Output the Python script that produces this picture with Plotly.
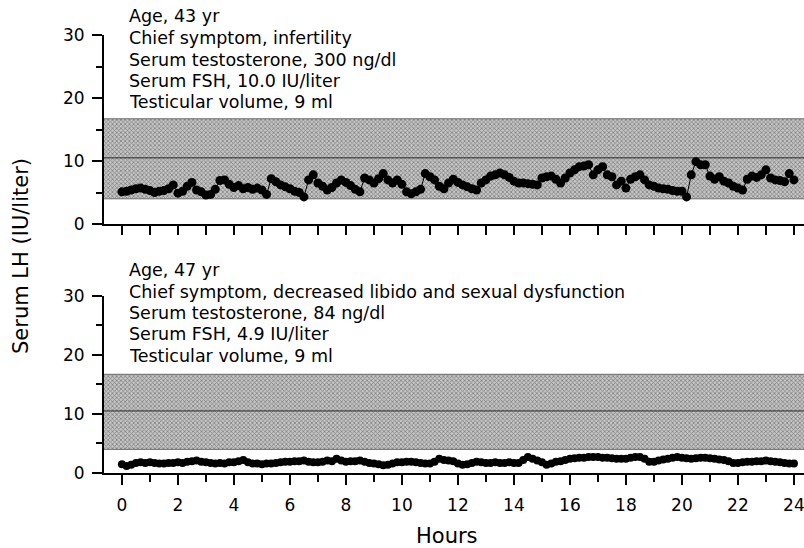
import plotly.graph_objects as go

# ---------------- data ----------------
# sampling every 10 minutes over 24 hours
sample_times_h = [i / 6 for i in range(145)]

top_lh = [
    5.1, 5.2, 5.4, 5.6, 5.7, 5.5,
    5.3, 5.0, 5.2, 5.3, 5.6, 6.2,
    4.9, 5.2, 6.0, 6.6, 5.4, 5.1,
    4.6, 4.7, 5.5, 6.9, 7.0, 6.3,
    5.8, 6.1, 5.6, 5.8, 5.5, 5.7,
    5.4, 4.7, 7.2, 6.7, 6.2, 5.9,
    5.6, 5.2, 5.0, 4.3, 7.0, 7.8,
    6.5, 6.0, 5.4, 5.8, 6.5, 7.0,
    6.6, 6.1, 5.5, 5.1, 7.3, 7.0,
    6.5, 7.2, 8.0, 7.0, 6.5, 7.0,
    6.3, 5.1, 4.8, 5.1, 5.5, 8.0,
    7.5, 7.0, 6.0, 5.6, 6.5, 7.1,
    6.6, 6.2, 5.9, 5.6, 5.4, 6.5,
    7.0, 7.6, 7.8, 8.1, 7.8, 7.4,
    6.8, 6.5, 6.5, 6.4, 6.3, 6.2,
    7.3, 7.5, 7.6, 7.1, 6.5, 7.3,
    8.1, 8.6, 9.1, 9.2, 9.4, 7.8,
    8.6, 9.1, 7.8, 7.5, 6.2, 6.8,
    5.7, 7.1, 7.5, 7.8, 7.0, 6.2,
    6.0, 5.7, 5.6, 5.5, 5.3, 5.2,
    5.2, 4.3, 7.8, 9.9, 9.4, 9.4,
    7.6, 7.1, 7.5, 6.8, 6.5, 6.0,
    5.7, 5.4, 7.1, 7.6, 7.4, 7.8,
    8.6, 7.3, 7.0, 6.9, 6.7, 8.0,
    7.0,
]

bottom_lh = [
    1.5, 1.2, 1.4, 1.7, 1.8, 1.7,
    1.8, 1.7, 1.6, 1.6, 1.7, 1.7,
    1.8, 1.7, 1.9, 2.0, 2.1, 1.9,
    1.8, 1.7, 1.6, 1.7, 1.6, 1.8,
    1.8, 2.0, 2.2, 1.8, 1.6, 1.6,
    1.5, 1.6, 1.6, 1.7, 1.8, 1.9,
    1.9, 2.0, 2.0, 2.1, 1.9, 1.8,
    1.8, 1.9, 2.1, 2.0, 2.4, 2.1,
    1.9, 2.0, 2.0, 2.1, 1.9, 1.7,
    1.6, 1.5, 1.3, 1.4, 1.6, 1.8,
    1.8, 1.9, 1.9, 1.8, 1.7, 1.6,
    1.6, 1.9, 2.4, 2.2, 2.1, 2.0,
    1.6, 1.4, 1.5, 1.7, 1.9, 1.8,
    1.7, 1.7, 1.8, 1.7, 1.7, 1.8,
    1.7, 1.7, 2.2, 2.7, 2.4, 2.1,
    1.8, 1.4, 1.6, 1.9, 2.0, 2.2,
    2.4, 2.5, 2.6, 2.6, 2.7, 2.7,
    2.7, 2.6, 2.6, 2.5, 2.4, 2.4,
    2.4, 2.6, 2.7, 2.7, 2.4, 1.9,
    1.9, 2.1, 2.3, 2.4, 2.6, 2.7,
    2.6, 2.5, 2.4, 2.5, 2.6, 2.6,
    2.5, 2.4, 2.3, 2.2, 2.0, 1.7,
    1.7, 1.8, 1.9, 1.9, 2.0, 2.0,
    2.1, 2.0, 1.9, 1.8, 1.7, 1.6,
    1.6,
]

normal_range = {"low": 4.0, "mid": 10.5, "high": 16.7}

top_text = [
    "Age, 43 yr",
    "Chief symptom, infertility",
    "Serum testosterone, 300 ng/dl",
    "Serum FSH, 10.0 IU/liter",
    "Testicular volume, 9 ml",
]
bottom_text = [
    "Age, 47 yr",
    "Chief symptom, decreased libido and sexual dysfunction",
    "Serum testosterone, 84 ng/dl",
    "Serum FSH, 4.9 IU/liter",
    "Testicular volume, 9 ml",
]

# ---------------- layout helpers ----------------
W, H = 804, 548
ML, MR, MT, MB = 104, 0, 35, 75
PW, PH = W - ML - MR, H - MT - MB
X_RANGE = [-0.64, 24.36]
FONT = "DejaVu Sans, Liberation Sans, Arial, sans-serif"


def py2paper(py):
    return (H - MB - py) / PH


def px2paper(px):
    return (px - ML) / PW


fig = go.Figure()

for xa, ya in (("x", "y"), ("x2", "y2")):
    # normal range band
    fig.add_trace(go.Scatter(
        x=X_RANGE, y=[normal_range["low"]] * 2, xaxis=xa, yaxis=ya,
        mode="lines", line=dict(color="#6a6a6a", width=1),
        hoverinfo="skip", showlegend=False))
    fig.add_trace(go.Scatter(
        x=X_RANGE, y=[normal_range["high"]] * 2, xaxis=xa, yaxis=ya,
        mode="lines", line=dict(color="#6a6a6a", width=1),
        fill="tonexty", fillcolor="#a8a8a8",
        fillpattern=dict(shape="x", size=3, solidity=0.45,
                         fgcolor="#3c3c3c", bgcolor="#c4c4c4"),
        hoverinfo="skip", showlegend=False))
    fig.add_trace(go.Scatter(
        x=X_RANGE, y=[normal_range["mid"]] * 2, xaxis=xa, yaxis=ya,
        mode="lines", line=dict(color="#2a2a2a", width=1),
        hoverinfo="skip", showlegend=False))

fig.add_trace(go.Scatter(
    x=sample_times_h, y=top_lh, xaxis="x", yaxis="y",
    mode="lines+markers", line=dict(color="black", width=1),
    marker=dict(color="black", size=9), showlegend=False))
fig.add_trace(go.Scatter(
    x=sample_times_h, y=bottom_lh, xaxis="x2", yaxis="y2",
    mode="lines+markers", line=dict(color="black", width=1),
    marker=dict(color="black", size=8), showlegend=False))

axis_common = dict(showgrid=False, zeroline=False, showline=True,
                   linecolor="black", linewidth=2, ticks="outside",
                   tickcolor="black", tickwidth=2,
                   tickfont=dict(family=FONT, size=17, color="black"))

top_domain = [py2paper(224), 1.0]
bot_domain = [0.0, py2paper(295.7)]

fig.update_layout(
    width=W, height=H,
    margin=dict(l=ML, r=MR, t=MT, b=MB),
    paper_bgcolor="white", plot_bgcolor="white",
    font=dict(family=FONT, color="black"),
    xaxis=dict(axis_common, range=X_RANGE, anchor="y", domain=[0, 1],
               tickmode="linear", tick0=0, dtick=1, ticklen=9,
               showticklabels=False),
    yaxis=dict(axis_common, range=[0, 30], anchor="x", domain=top_domain,
               tickmode="linear", tick0=0, dtick=10, ticklen=10,
               ticklabelstandoff=4,
               minor=dict(dtick=5, tick0=0, ticklen=6, ticks="outside",
                          tickcolor="black", tickwidth=2, showgrid=False)),
    xaxis2=dict(axis_common, range=X_RANGE, anchor="y2", domain=[0, 1],
                tickmode="linear", tick0=0, dtick=2, ticklen=10,
                ticklabelstandoff=6, ticklabeloverflow="allow",
                minor=dict(dtick=1, tick0=0, ticklen=7, ticks="outside",
                           tickcolor="black", tickwidth=2, showgrid=False)),
    yaxis2=dict(axis_common, range=[0, 30], anchor="x2", domain=bot_domain,
                tickmode="linear", tick0=0, dtick=10, ticklen=10,
                ticklabelstandoff=4,
                minor=dict(dtick=5, tick0=0, ticklen=6, ticks="outside",
                           tickcolor="black", tickwidth=2, showgrid=False)),
)

annotations = []
top_rows_py = [16, 38, 60, 81, 102.5]
bot_rows_py = [270, 291.5, 313, 334, 355.5]
for txt, py in zip(top_text, top_rows_py):
    annotations.append(dict(text=txt, xref="paper", yref="paper",
                            x=px2paper(127), y=py2paper(py),
                            xanchor="left", yanchor="middle", showarrow=False,
                            font=dict(family=FONT, size=17.5, color="black")))
for txt, py in zip(bottom_text, bot_rows_py):
    annotations.append(dict(text=txt, xref="paper", yref="paper",
                            x=px2paper(127), y=py2paper(py),
                            xanchor="left", yanchor="middle", showarrow=False,
                            font=dict(family=FONT, size=17.5, color="black")))
annotations.append(dict(text="Serum LH (IU/liter)", xref="paper", yref="paper",
                        x=px2paper(21), y=py2paper(256), textangle=-90,
                        xanchor="center", yanchor="middle", showarrow=False,
                        font=dict(family=FONT, size=21, color="black")))
annotations.append(dict(text="Hours", xref="paper", yref="paper",
                        x=px2paper(447), y=py2paper(536),
                        xanchor="center", yanchor="middle", showarrow=False,
                        font=dict(family=FONT, size=21, color="black")))
fig.update_layout(annotations=annotations)

fig.write_html(
    "out.html",
    config={"displayModeBar": False},
    post_script="document.body.style.margin='0';document.body.style.padding='0';"
                "document.documentElement.style.overflow='hidden';",
)
